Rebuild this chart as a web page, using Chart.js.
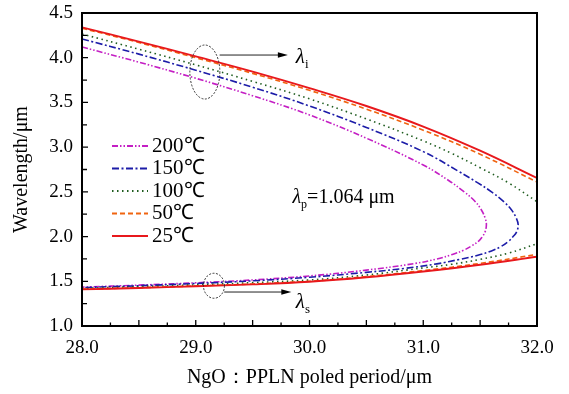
<!DOCTYPE html>
<html>
<head>
<meta charset="utf-8">
<script src="https://cdn.jsdelivr.net/npm/chart.js@4.4.0/dist/chart.umd.min.js"></script>
<style>
  html, body { margin: 0; padding: 0; background: #fff; }
  #wrap { width: 569px; height: 394px; }
</style>
</head>
<body>
<div id="wrap"><canvas id="chart" width="569" height="394"></canvas></div>
<script>
// temperatures, legend order (top to bottom)
const temps = ["200℃", "150℃", "100℃", "50℃", "25℃"];

// poled period (x) for the branches that don't turn inside the plot
const periods = [28, 28.5, 29, 29.5, 30, 30.5, 31, 31.5, 32];

const idler25 = [4.34, 4.18, 4.015, 3.845, 3.66, 3.46, 3.23, 2.96, 2.655];
const signal25 = [1.41, 1.425, 1.445, 1.465, 1.495, 1.545, 1.61, 1.685, 1.775];
const idler50 = [4.33, 4.17, 4.0, 3.825, 3.635, 3.425, 3.19, 2.92, 2.61];
const signal50 = [1.412, 1.428, 1.448, 1.47, 1.50, 1.552, 1.62, 1.70, 1.80];

const periods100 = [28, 28.5, 29, 29.5, 30, 30.5, 31, 31.25, 31.5, 31.75, 32];
const idler100 = [4.265, 4.095, 3.92, 3.735, 3.54, 3.315, 3.07, 2.93, 2.77, 2.60, 2.39];
const signal100 = [1.42, 1.44, 1.46, 1.485, 1.515, 1.57, 1.65, 1.69, 1.745, 1.815, 1.92];

// 150 and 200 turn round inside the plot: idler going right, then signal coming back
const loop150X = [28, 28.5, 29, 29.5, 30, 30.5, 31, 31.31, 31.48, 31.60, 31.70, 31.775, 31.82, 31.835, 31.82, 31.79, 31.747, 31.685, 31.60, 31.48, 31.32, 31.12, 30.84, 30.5, 30, 29.5, 29, 28.5, 28];
const loop150Y = [4.21, 4.04, 3.86, 3.67, 3.46, 3.22, 2.95, 2.73, 2.60, 2.50, 2.40, 2.30, 2.20, 2.13, 2.05, 2.0, 1.945, 1.89, 1.84, 1.79, 1.745, 1.695, 1.645, 1.60, 1.545, 1.505, 1.475, 1.45, 1.43];
const loop200X = [28, 28.5, 29, 29.5, 30, 30.5, 31, 31.22, 31.36, 31.45, 31.51, 31.546, 31.555, 31.543, 31.52, 31.487, 31.43, 31.36, 31.256, 31.12, 30.93, 30.5, 30, 29.5, 29, 28.5, 28];
const loop200Y = [4.12, 3.95, 3.77, 3.575, 3.36, 3.10, 2.80, 2.63, 2.50, 2.40, 2.30, 2.20, 2.13, 2.05, 2.0, 1.95, 1.90, 1.85, 1.80, 1.75, 1.70, 1.625, 1.56, 1.515, 1.483, 1.457, 1.435];

const colors = ["#c41fc4", "#1c1ca8", "#1f5c1f", "#f06410", "#e8181c"];
const dashes = [[6, 2, 1.5, 2, 1.5, 2], [7, 2.5, 2, 2.5], [1.5, 3.5], [5, 3], []];
const widths = [1.6, 1.6, 1.6, 1.6, 1.9];

const serif = "'Liberation Serif', 'Times New Roman', serif";

const pts = (xs, ys) => xs.map((x, i) => ({ x: x, y: ys[i] }));

function line(idx, data) {
    return {
        label: temps[idx],
        data: data,
        showLine: true,
        borderColor: colors[idx],
        borderDash: dashes[idx],
        borderWidth: widths[idx],
        pointRadius: 0,
        tension: 0.4,
        fill: false
    };
}

// first dataset ends up on top
const datasets = [
    line(4, pts(periods, idler25)),
    line(4, pts(periods, signal25)),
    line(3, pts(periods, idler50)),
    line(3, pts(periods, signal50)),
    line(2, pts(periods100, idler100)),
    line(2, pts(periods100, signal100)),
    line(1, pts(loop150X, loop150Y)),
    line(0, pts(loop200X, loop200Y))
];

const isHalf = v => Math.abs(v * 2 - Math.round(v * 2)) < 1e-6;

const frameAndTicks = {
    id: "frameAndTicks",
    afterDatasetsDraw(chart) {
        const { ctx, chartArea: a, scales: { x, y } } = chart;
        ctx.save();
        ctx.strokeStyle = "#000";
        ctx.lineWidth = 1.3;
        ctx.beginPath();
        x.ticks.forEach(t => {
            const px = x.getPixelForValue(t.value);
            const len = isHalf(t.value) ? 6 : 3.5;
            ctx.moveTo(px, a.bottom);
            ctx.lineTo(px, a.bottom - len);
        });
        y.ticks.forEach(t => {
            const py = y.getPixelForValue(t.value);
            const len = isHalf(t.value) ? 6 : 5;
            ctx.moveTo(a.left, py);
            ctx.lineTo(a.left + len, py);
        });
        ctx.stroke();
        ctx.lineWidth = 2;
        ctx.strokeRect(a.left, a.top, a.right - a.left, a.bottom - a.top);
        ctx.restore();
    }
};

function lambda(ctx, px, py, sub, size) {
    ctx.font = "italic " + size + "px " + serif;
    ctx.textAlign = "left";
    ctx.textBaseline = "alphabetic";
    ctx.fillText("λ", px, py);
    const w = ctx.measureText("λ").width;
    ctx.font = Math.round(size * 0.62) + "px " + serif;
    ctx.fillText(sub, px + w, py + size * 0.25);
    return w + ctx.measureText(sub).width;
}

function arrow(ctx, x0, x1, py) {
    ctx.beginPath();
    ctx.moveTo(x0, py);
    ctx.lineTo(x1 - 6, py);
    ctx.stroke();
    ctx.beginPath();
    ctx.moveTo(x1, py);
    ctx.lineTo(x1 - 10, py - 2.8);
    ctx.lineTo(x1 - 10, py + 2.8);
    ctx.closePath();
    ctx.fill();
}

const notes = {
    id: "notes",
    afterDraw(chart) {
        const { ctx, chartArea: a, scales: { x, y } } = chart;
        ctx.save();
        ctx.fillStyle = "#000";
        ctx.strokeStyle = "#222";

        // ellipses round the bundles
        ctx.lineWidth = 0.9;
        ctx.setLineDash([2, 1.5]);
        ctx.beginPath();
        ctx.ellipse(x.getPixelForValue(29.08), y.getPixelForValue(3.84), 15, 27, 0, 0, Math.PI * 2);
        ctx.stroke();
        ctx.beginPath();
        ctx.ellipse(x.getPixelForValue(29.16), y.getPixelForValue(1.45), 10.5, 12.5, 0, 0, Math.PI * 2);
        ctx.stroke();
        ctx.setLineDash([]);

        // arrows and labels
        ctx.lineWidth = 1;
        arrow(ctx, x.getPixelForValue(29.21), x.getPixelForValue(29.81), y.getPixelForValue(4.03));
        arrow(ctx, x.getPixelForValue(29.25), x.getPixelForValue(29.84), y.getPixelForValue(1.38));
        lambda(ctx, x.getPixelForValue(29.88), y.getPixelForValue(3.94), "i", 21);
        lambda(ctx, x.getPixelForValue(29.88), y.getPixelForValue(1.2), "s", 21);

        let px = x.getPixelForValue(29.85);
        const py = y.getPixelForValue(2.38);
        px += lambda(ctx, px, py, "p", 20);
        ctx.font = "20px " + serif;
        ctx.fillText("=1.064 μm", px, py);

        // legend
        temps.forEach((t, i) => {
            const ly = a.top + 133 + i * 22.5;
            ctx.strokeStyle = colors[i];
            ctx.lineWidth = widths[i] + 0.2;
            ctx.setLineDash(dashes[i]);
            ctx.beginPath();
            ctx.moveTo(a.left + 30, ly);
            ctx.lineTo(a.left + 66, ly);
            ctx.stroke();
            ctx.setLineDash([]);
            ctx.fillStyle = "#000";
            ctx.font = "21px " + serif;
            ctx.textBaseline = "middle";
            ctx.fillText(t, a.left + 70, ly);
        });
        ctx.restore();
    }
};

new Chart(document.getElementById("chart"), {
    type: "scatter",
    data: { datasets: datasets },
    options: {
        responsive: false,
        animation: false,
        layout: { padding: { left: 0, right: 32, top: 13, bottom: 0 } },
        plugins: { legend: { display: false }, tooltip: { enabled: false } },
        scales: {
            x: {
                type: "linear",
                min: 28,
                max: 32,
                afterFit: s => { s.height = 68; s.paddingLeft = 0; s.paddingRight = 0; },
                grid: { display: false, drawTicks: false },
                border: { display: false },
                ticks: {
                    stepSize: 0.25,
                    autoSkip: false,
                    maxRotation: 0,
                    maxTicksLimit: 50,
                    padding: 11,
                    color: "#000",
                    font: { family: serif, size: 19 },
                    callback: v => Number.isInteger(v) ? v.toFixed(1) : ""
                },
                title: {
                    display: true,
                    text: "NgO：PPLN poled period/μm",
                    color: "#000",
                    font: { family: serif, size: 20 },
                    padding: { top: 0, bottom: 4 }
                }
            },
            y: {
                type: "linear",
                min: 1.0,
                max: 4.5,
                afterFit: s => { s.width = 82; s.paddingTop = 0; s.paddingBottom = 0; },
                grid: { display: false, drawTicks: false },
                border: { display: false },
                ticks: {
                    stepSize: 0.25,
                    autoSkip: false,
                    maxTicksLimit: 50,
                    padding: 9,
                    color: "#000",
                    font: { family: serif, size: 19 },
                    callback: v => isHalf(v) ? v.toFixed(1) : ""
                },
                title: {
                    display: true,
                    text: "Wavelength/μm",
                    color: "#000",
                    font: { family: serif, size: 20 },
                    padding: { top: 10, bottom: 0 }
                }
            }
        }
    },
    plugins: [frameAndTicks, notes]
});
</script>
</body>
</html>
